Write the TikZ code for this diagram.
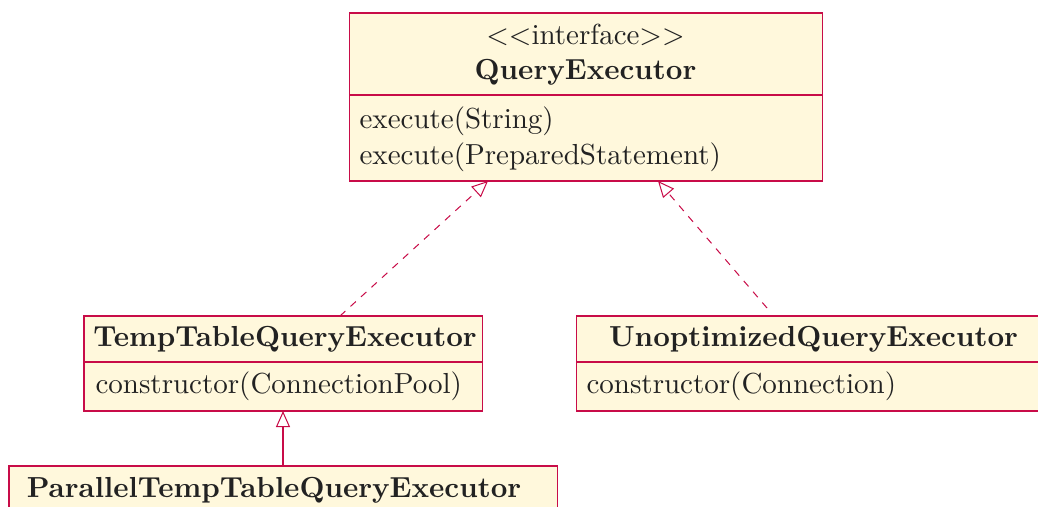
\documentclass[tikz,border=0pt]{standalone}
\usetikzlibrary{arrows.meta}

% one drawing unit
\def\px{0.345pt}

\definecolor{umlborder}{RGB}{200,12,72}
\definecolor{umlfill}{RGB}{255,248,220}
\definecolor{umltext}{RGB}{34,34,34}

\tikzset{
  compartment/.style 2 args={draw=umlborder, fill=umlfill, line width=0.35pt,
    rectangle, inner sep=0pt, outer sep=0pt, anchor=north west,
    minimum width=#1*\px, minimum height=#2*\px},
  label/.style={inner sep=0pt, text=umltext, font=\normalsize},
  hollowtip/.style={-{Triangle[open, length=5.6pt, width=4.9pt, line width=0.35pt]}},
  realizes/.style={draw=umlborder, line width=0.35pt, dash pattern=on 2.5pt off 2.4pt, hollowtip},
  extends/.style={draw=umlborder, line width=0.35pt, hollowtip},
}

\begin{document}
\begin{tikzpicture}[x=\px, y=-\px]
  \path[use as bounding box] (0,0) rectangle (1038,507);
  \clip (0,0) rectangle (1038,507);

  % QueryExecutor interface
  \node[compartment={473}{82}] (qe-head) at (349,13) {};
  \node[compartment={473}{86}] (qe-body) at (qe-head.south west) {};
  \node[label, anchor=base] (qe-stereo) at (585.5,45) {$<<$interface$>>$};
  \node[label, anchor=base] (qe-name) at (585.5,80) {\textbf{QueryExecutor}};
  \node[label, anchor=base west] (qe-op1) at (359,129) {execute(String)};
  \node[label, anchor=base west] (qe-op2) at (359,165) {execute(PreparedStatement)};

  % TempTableQueryExecutor
  \node[compartment={398}{46}] (tt-head) at (84,316) {};
  \node[compartment={398}{49}] (tt-body) at (tt-head.south west) {};
  \node[label, anchor=base] (tt-name) at (285,346) {\textbf{TempTableQueryExecutor}};
  \node[label, anchor=base west] (tt-op1) at (95,393) {constructor(ConnectionPool)};

  % UnoptimizedQueryExecutor
  \node[compartment={475}{46}] (un-head) at (576,316) {};
  \node[compartment={475}{49}] (un-body) at (un-head.south west) {};
  \node[label, anchor=base] (un-name) at (813.5,346) {\textbf{UnoptimizedQueryExecutor}};
  \node[label, anchor=base west] (un-op1) at (586,393) {constructor(Connection)};

  % ParallelTempTableQueryExecutor
  \node[compartment={548}{60}] (pt-head) at (9,466) {};
  \node[label, anchor=base] (pt-name) at (274,497) {\textbf{ParallelTempTableQueryExecutor}};

  % relations
  \draw[realizes] ([xshift=57*\px]tt-head.north) -- ([xshift=-97.5*\px]qe-body.south);
  \draw[realizes] ([xshift=-46.5*\px, yshift=8*\px]un-head.north) -- ([xshift=72.5*\px]qe-body.south);
  \draw[extends] (pt-head.north -| tt-body.south) -- (tt-body.south);
\end{tikzpicture}
\end{document}
